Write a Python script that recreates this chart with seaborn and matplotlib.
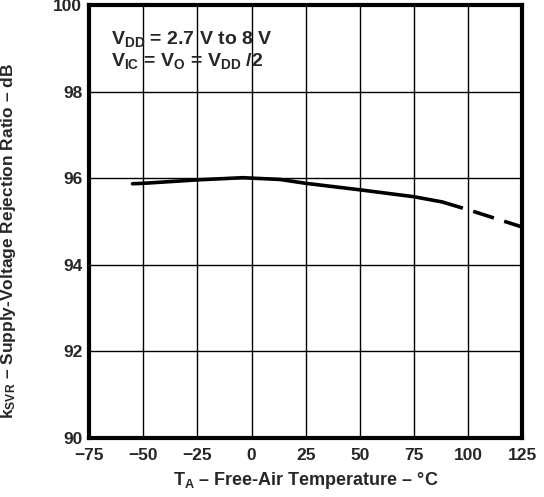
import pandas as pd
import seaborn as sns
import matplotlib.pyplot as plt

# valores
temp_solida = [-55, -50, -25, -4, 0, 13, 25, 50, 75, 88]
ksvr_solida = [95.87, 95.88, 95.96, 96.01, 96.0, 95.97, 95.88, 95.73, 95.57, 95.45]
temp_trazos = [88, 100, 125]
ksvr_trazos = [95.45, 95.27, 94.87]

x_ticks = [-75, -50, -25, 0, 25, 50, 75, 100, 125]
x_labels = ["\u221275", "\u221250", "\u221225", "0", "25", "50", "75", "100", "125"]
y_ticks = [90, 92, 94, 96, 98, 100]

sns.set_style("white")
plt.rcParams['font.family'] = ['Liberation Sans', 'DejaVu Sans']
plt.rcParams['font.weight'] = 'bold'
plt.rcParams['mathtext.fontset'] = 'custom'
plt.rcParams['mathtext.rm'] = 'Liberation Sans:bold'
plt.rcParams['mathtext.bf'] = 'Liberation Sans:bold'
plt.rcParams['mathtext.it'] = 'Liberation Sans:bold'

df_s = pd.DataFrame({"T": temp_solida, "k": ksvr_solida})
df_d = pd.DataFrame({"T": temp_trazos, "k": ksvr_trazos})

fig = plt.figure(figsize=(5.44, 4.97), dpi=100)
ax = fig.add_axes([0.164, 0.119, 0.796, 0.871])

sns.lineplot(data=df_s, x="T", y="k", color='black', linewidth=2.6, ax=ax)
sns.lineplot(data=df_d, x="T", y="k", color='black', linewidth=2.6, ax=ax)
ax.lines[-1].set_dashes([6, 3])

ax.set_xlim(-75, 125)
ax.set_ylim(90, 100)
ax.set_xticks(x_ticks)
ax.set_xticklabels(x_labels)
ax.set_yticks(y_ticks)
ax.tick_params(length=0, labelsize=12.5)
ax.tick_params(axis='x', pad=7)
ax.tick_params(axis='y', pad=5)
for lbl in ax.get_xticklabels() + ax.get_yticklabels():
    lbl.set_fontweight('bold')

ax.grid(True, color='black', linewidth=1)
for sp in ax.spines.values():
    sp.set_linewidth(3)
    sp.set_color('black')

ax.set_xlabel("$\\mathrm{T_A}$ \u2013 Free-Air Temperature \u2013 \u00b0C", fontsize=13, fontweight='bold', labelpad=5)
ax.set_ylabel("$\\mathrm{k_{SVR}}$ \u2013 Supply-Voltage Rejection Ratio \u2013 dB", fontsize=12.5, fontweight='bold')
ax.yaxis.set_label_coords(-0.165, 0.455)

ax.text(0.05, 0.945, "$\\mathrm{V_{DD}}$ = 2.7 V to 8 V", transform=ax.transAxes, fontsize=14, fontweight='bold', va='top', ha='left')
ax.text(0.05, 0.893, "$\\mathrm{V_{IC}}$ = $\\mathrm{V_O}$ = $\\mathrm{V_{DD}}$ /2", transform=ax.transAxes, fontsize=14, fontweight='bold', va='top', ha='left')

plt.savefig("out.png", dpi=100)
